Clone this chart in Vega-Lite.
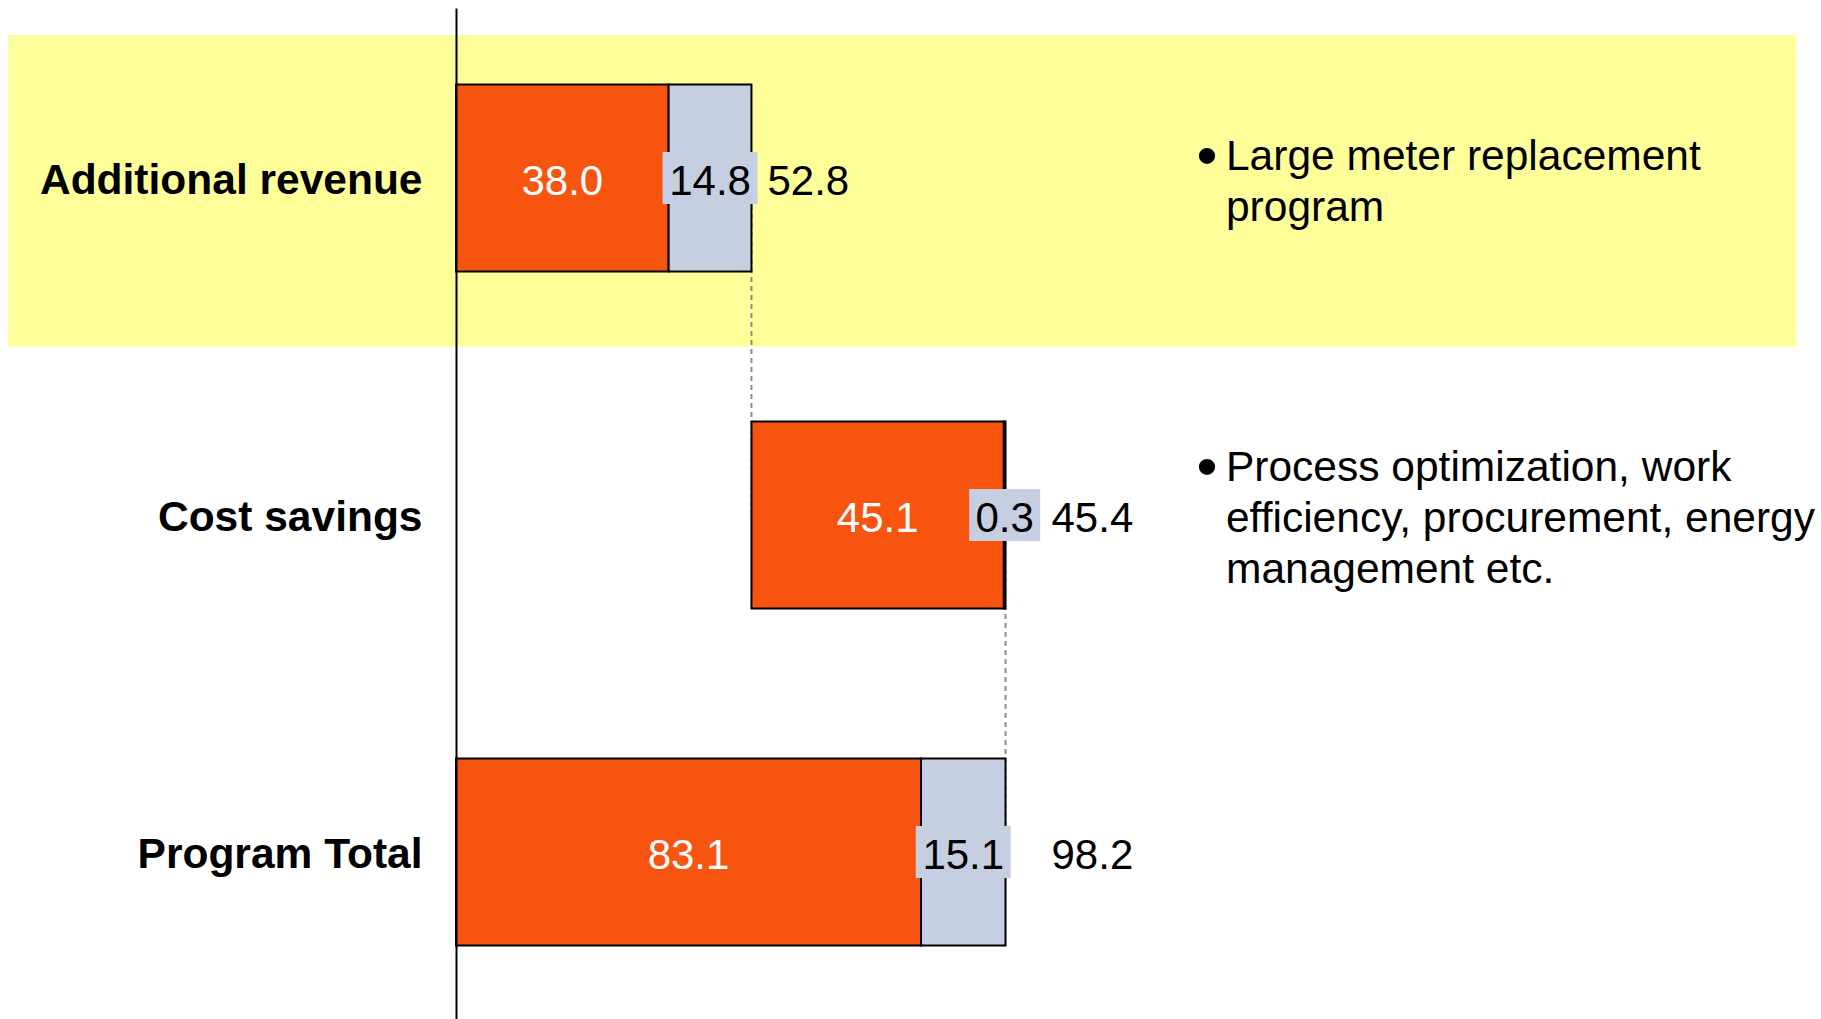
{
  "$schema": "https://vega.github.io/schema/vega-lite/v6.json",
  "width": 1343,
  "height": 1011,
  "autosize": {"type": "none"},
  "padding": {"left": 456, "top": 8, "right": 22, "bottom": 0},
  "background": "white",
  "config": {"view": {"stroke": null}, "font": "Liberation Sans", "text": {"font": "Liberation Sans"}},
  "datasets": {
    "segments": [
      {"cat": "Additional revenue", "seg": "base", "start": 0, "end": 38.0, "label": "38.0"},
      {"cat": "Additional revenue", "seg": "extra", "start": 38.0, "end": 52.8, "label": "14.8"},
      {"cat": "Cost savings", "seg": "base", "start": 52.8, "end": 97.9, "label": "45.1"},
      {"cat": "Cost savings", "seg": "extra", "start": 97.9, "end": 98.2, "label": "0.3"},
      {"cat": "Program Total", "seg": "base", "start": 0, "end": 83.1, "label": "83.1"},
      {"cat": "Program Total", "seg": "extra", "start": 83.1, "end": 98.2, "label": "15.1"}
    ],
    "totals": [
      {"cat": "Additional revenue", "total": 52.8},
      {"cat": "Cost savings", "total": 45.4, "end": 98.2},
      {"cat": "Program Total", "total": 98.2, "end": 98.2}
    ],
    "links": [
      {"from": "Additional revenue", "to": "Cost savings", "at": 52.8},
      {"from": "Cost savings", "to": "Program Total", "at": 98.2}
    ],
    "notes": [
      {"cat": "Additional revenue", "note": "Large meter replacement\nprogram"},
      {"cat": "Cost savings", "note": "Process optimization, work\nefficiency, procurement, energy\nmanagement etc."}
    ],
    "highlight": [{"cat": "Additional revenue"}]
  },
  "layer": [
    {
      "data": {"name": "highlight"},
      "mark": {"type": "rect", "color": "#FFFF99"},
      "encoding": {
        "y": {"field": "cat", "type": "nominal", "axis": null,
              "scale": {"domain": ["Additional revenue", "Cost savings", "Program Total"], "paddingInner": 0.0339, "paddingOuter": 0.0837, "round": false}},
        "x": {"datum": -80, "type": "quantitative", "axis": null, "scale": {"domain": [0, 240], "nice": false, "zero": true}},
        "x2": {"datum": 239.5}
      }
    },
    {
      "encoding": {
        "y": {"field": "cat", "type": "nominal",
              "scale": {"domain": ["Additional revenue", "Cost savings", "Program Total"], "paddingInner": 0.4451, "paddingOuter": 0.2226, "align": 0.51, "round": false},
              "axis": {"title": null, "ticks": false, "domain": true, "domainColor": "black", "domainWidth": 2, "labelFont": "Liberation Sans", "labelFontWeight": "bold", "labelFontSize": 42.5, "labelColor": "black", "labelPadding": 34, "labelLimit": 800, "labelOffset": 3, "zindex": 1}}
      },
      "layer": [
        {
          "data": {"name": "links"},
          "mark": {"type": "rule", "color": "#8C8C8C", "strokeWidth": 2, "strokeDash": [5, 4]},
          "encoding": {
            "x": {"field": "at", "type": "quantitative", "axis": null},
            "y": {"field": "from", "type": "nominal"},
            "y2": {"field": "to"}
          }
        },
        {
          "data": {"name": "segments"},
          "mark": {"type": "bar", "stroke": "black", "strokeWidth": 2},
          "encoding": {
            "x": {"field": "start", "type": "quantitative", "axis": null},
            "x2": {"field": "end"},
            "color": {"field": "seg", "type": "nominal", "legend": null, "scale": {"domain": ["base", "extra"], "range": ["#F75410", "#C5CFE1"]}}
          }
        },
        {
          "data": {"name": "segments"},
          "transform": [{"filter": "datum.seg == 'extra' && datum.label != '0.3'"}, {"calculate": "(datum.start + datum.end) / 2", "as": "mid"}],
          "mark": {"type": "rect", "color": "#C5CFE1", "width": 95, "height": 52},
          "encoding": {"x": {"field": "mid", "type": "quantitative", "axis": null}}
        },
        {
          "data": {"name": "segments"},
          "transform": [{"filter": "datum.label == '0.3'"}, {"calculate": "(datum.start + datum.end) / 2", "as": "mid"}],
          "mark": {"type": "rect", "color": "#C5CFE1", "width": 71, "height": 52},
          "encoding": {"x": {"field": "mid", "type": "quantitative", "axis": null}}
        },
        {
          "data": {"name": "segments"},
          "transform": [{"filter": "datum.seg == 'base'"}, {"calculate": "(datum.start + datum.end) / 2", "as": "mid"}],
          "mark": {"type": "text", "color": "white", "fontSize": 42, "baseline": "middle", "align": "center", "dy": 4},
          "encoding": {"x": {"field": "mid", "type": "quantitative", "axis": null}, "text": {"field": "label"}}
        },
        {
          "data": {"name": "segments"},
          "transform": [{"filter": "datum.seg == 'extra'"}, {"calculate": "(datum.start + datum.end) / 2", "as": "mid"}],
          "mark": {"type": "text", "color": "black", "fontSize": 42, "baseline": "middle", "align": "center", "dy": 4},
          "encoding": {"x": {"field": "mid", "type": "quantitative", "axis": null}, "text": {"field": "label"}}
        },
        {
          "data": {"name": "totals"},
          "transform": [{"filter": "datum.cat == 'Additional revenue'"}],
          "mark": {"type": "text", "color": "black", "fontSize": 42, "baseline": "middle", "align": "left", "dx": 16, "dy": 4},
          "encoding": {"x": {"field": "total", "type": "quantitative", "axis": null}, "text": {"field": "total", "format": ".1f"}}
        },
        {
          "data": {"name": "totals"},
          "transform": [{"filter": "datum.cat != 'Additional revenue'"}],
          "mark": {"type": "text", "color": "black", "fontSize": 42, "baseline": "middle", "align": "left", "dx": 46, "dy": 4},
          "encoding": {"x": {"field": "end", "type": "quantitative", "axis": null}, "text": {"field": "total", "format": ".1f"}}
        },
        {
          "data": {"name": "notes"},
          "transform": [{"filter": "datum.cat == 'Additional revenue'"}],
          "mark": {"type": "text", "color": "black", "fontSize": 60, "baseline": "middle", "align": "center", "dy": -20.5},
          "encoding": {"x": {"datum": 134.2, "type": "quantitative", "axis": null}, "text": {"value": "•"}}
        },
        {
          "data": {"name": "notes"},
          "transform": [{"filter": "datum.cat == 'Cost savings'"}],
          "mark": {"type": "text", "color": "black", "fontSize": 60, "baseline": "middle", "align": "center", "dy": -45.8},
          "encoding": {"x": {"datum": 134.2, "type": "quantitative", "axis": null}, "text": {"value": "•"}}
        },
        {
          "data": {"name": "notes"},
          "transform": [{"filter": "datum.cat == 'Additional revenue'"}],
          "mark": {"type": "text", "color": "black", "fontSize": 42.5, "baseline": "middle", "align": "left", "lineBreak": "\n", "lineHeight": 51, "dy": -21.5},
          "encoding": {"x": {"datum": 137.6, "type": "quantitative", "axis": null}, "text": {"field": "note"}}
        },
        {
          "data": {"name": "notes"},
          "transform": [{"filter": "datum.cat == 'Cost savings'"}],
          "mark": {"type": "text", "color": "black", "fontSize": 42.5, "baseline": "middle", "align": "left", "lineBreak": "\n", "lineHeight": 51, "dy": -46.8},
          "encoding": {"x": {"datum": 137.6, "type": "quantitative", "axis": null}, "text": {"field": "note"}}
        }
      ]
    }
  ],
  "resolve": {"scale": {"y": "independent"}}
}
